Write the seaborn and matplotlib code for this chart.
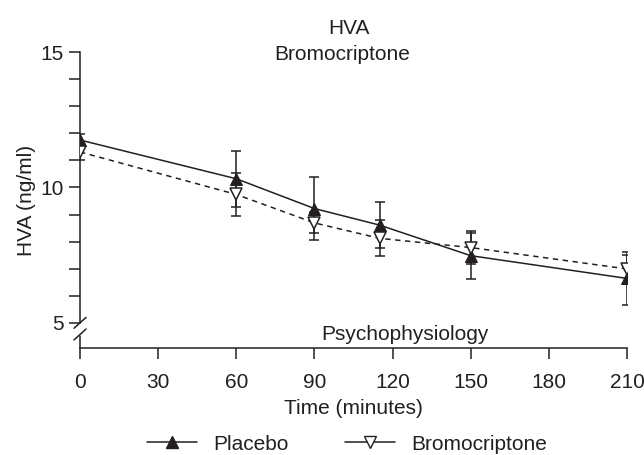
import numpy as np
import pandas as pd
import matplotlib
matplotlib.use("Agg")
import matplotlib.pyplot as plt
from matplotlib.lines import Line2D
import seaborn as sns

# Sampling times (minutes) and HVA means / SEM for each condition
times = [0, 60, 90, 115, 150, 210]
placebo_mean = [11.75, 10.32, 9.22, 8.61, 7.48, 6.64]
placebo_err = [0.24, 1.04, 1.17, 0.86, 0.85, 0.98]
bromo_mean = [11.31, 9.74, 8.69, 8.12, 7.78, 6.99]
bromo_err = [0.28, 0.80, 0.39, 0.66, 0.60, 0.52]

x_ticks = [0, 30, 60, 90, 120, 150, 180, 210]
y_ticks = [5, 10, 15]

INK = "#231f20"
FS = 15

sns.set_theme(style="white")
plt.rcParams["font.family"] = ["Liberation Sans", "DejaVu Sans"]
plt.rcParams["text.color"] = INK
plt.rcParams["axes.labelcolor"] = INK
plt.rcParams["xtick.color"] = INK
plt.rcParams["ytick.color"] = INK

df = pd.DataFrame({
    "time": times * 2,
    "hva": placebo_mean + bromo_mean,
    "group": ["Placebo"] * len(times) + ["Bromocriptone"] * len(times),
})

fig = plt.figure(figsize=(6.44, 4.55), dpi=100)
ax = fig.add_axes([80 / 644, 1 - 348.3 / 455, 547 / 644, 296.3 / 455])

sns.lineplot(data=df, x="time", y="hva", hue="group", style="group",
             palette={"Placebo": INK, "Bromocriptone": INK},
             dashes={"Placebo": "", "Bromocriptone": (3.5, 3)},
             markers={"Placebo": "^", "Bromocriptone": "v"},
             markersize=8.5, linewidth=1.1, legend=False, ax=ax,
             markeredgecolor=INK, zorder=3)

# fill for the open triangles
for ln in ax.get_lines():
    if ln.get_marker() == "v":
        ln.set_markerfacecolor("white")
        ln.set_markeredgewidth(1.1)

ax.errorbar(times, placebo_mean, yerr=placebo_err, fmt="none", ecolor=INK,
            elinewidth=1.1, capsize=3.5, capthick=1.1, zorder=2)
ax.errorbar(times, bromo_mean, yerr=bromo_err, fmt="none", ecolor=INK,
            elinewidth=1.1, capsize=3.5, capthick=1.1, zorder=2)

ax.set_xlim(0, 210)
ax.set_ylim(4.06, 15)
ax.set_xticks(x_ticks)
ax.set_yticks(y_ticks)
ax.set_yticks(np.arange(5, 16, 1), minor=True)
ax.tick_params(axis="both", which="both", direction="out", length=8,
               width=1.1, labelsize=FS, color=INK)
ax.tick_params(axis="y", which="both", left=True, pad=4)
ax.tick_params(axis="x", which="both", bottom=True, pad=10)

for side in ("top", "right"):
    ax.spines[side].set_visible(False)
for side in ("left", "bottom"):
    ax.spines[side].set_color(INK)
    ax.spines[side].set_linewidth(1.1)
ax.spines["left"].set_bounds(5.0, 15)

# lower stub of the broken y axis plus the break marks
trans = ax.get_yaxis_transform()
ax.plot([0, 0], [4.06, 4.52], color=INK, lw=1.1, transform=trans, clip_on=False)
for yc in (5.0, 4.57):
    ax.plot([-0.011, 0.011], [yc - 0.2, yc + 0.2], color=INK, lw=1.1,
            transform=trans, clip_on=False)

ax.set_xlabel("Time (minutes)", fontsize=FS, labelpad=5)
ax.set_ylabel("HVA (ng/ml)", fontsize=FS)
ax.yaxis.set_label_coords(-0.0804, 0.5)

fig.text(349 / 644, 1 - 29 / 455, "HVA", ha="center", va="center", fontsize=FS)
fig.text(342 / 644, 1 - 55 / 455, "Bromocriptone", ha="center", va="center", fontsize=FS)
ax.text(405 / 644, 1 - 334 / 455, "Psychophysiology", ha="center", va="center",
        fontsize=FS, transform=fig.transFigure)

handles = [
    Line2D([], [], color=INK, lw=1.1, marker="^", markersize=8.5,
           markerfacecolor=INK, markeredgecolor=INK),
    Line2D([], [], color=INK, lw=1.1, marker="v", markersize=8.5,
           markerfacecolor="white", markeredgecolor=INK),
]
fig.legend(handles, ["Placebo", "Bromocriptone"], loc="center",
           bbox_to_anchor=(347 / 644, 1 - 444 / 455), ncol=2, frameon=False,
           fontsize=FS, handlelength=2.4, handletextpad=0.77,
           columnspacing=2.7, borderpad=0, borderaxespad=0)

fig.savefig("out.png", dpi=100, facecolor="white")
